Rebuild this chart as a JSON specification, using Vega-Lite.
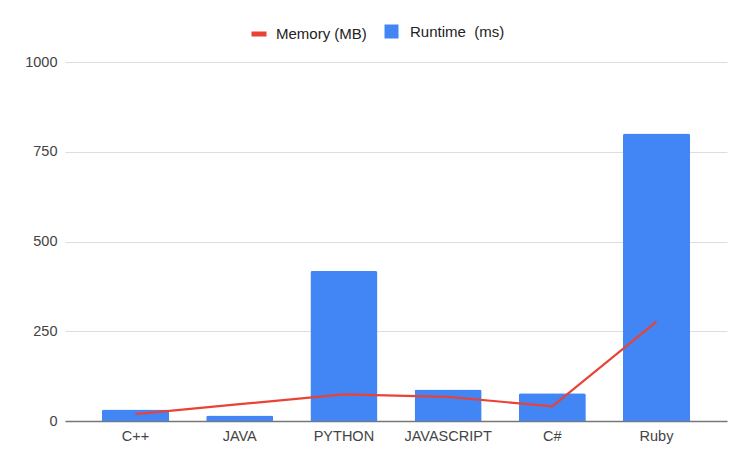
{
  "$schema": "https://vega.github.io/schema/vega-lite/v6.json",
  "autosize": {"type": "none"},
  "width": 662,
  "height": 359,
  "padding": {"left": 65, "top": 62, "right": 16, "bottom": 43},
  "background": "white",
  "data": {
    "values": [
      {"lang": "C++", "runtime": 32, "memory": 19},
      {"lang": "JAVA", "runtime": 15, "memory": 47},
      {"lang": "PYTHON", "runtime": 418, "memory": 74},
      {"lang": "JAVASCRIPT", "runtime": 88, "memory": 67},
      {"lang": "C#", "runtime": 77, "memory": 41},
      {"lang": "Ruby", "runtime": 801, "memory": 277}
    ]
  },
  "config": {
    "view": {"stroke": null},
    "font": "Liberation Sans",
    "axis": {"labelFont": "Liberation Sans", "labelFontSize": 14.5, "labelColor": "#444444", "title": null},
    "legend": {"labelFont": "Liberation Sans", "labelFontSize": 15, "labelColor": "#222222", "padding": 0, "title": null}
  },
  "encoding": {
    "x": {
      "field": "lang", "type": "nominal", "sort": null,
      "scale": {"paddingInner": 0.357, "paddingOuter": 0.355},
      "axis": {"labelAngle": 0, "ticks": false, "domainColor": "#777777", "domainWidth": 1.5, "labelPadding": 8, "grid": false}
    }
  },
  "layer": [
    {
      "mark": {"type": "bar", "cornerRadiusTopLeft": 2, "cornerRadiusTopRight": 2},
      "encoding": {
        "y": {
          "field": "runtime", "type": "quantitative",
          "scale": {"domain": [0, 1000], "nice": false},
          "axis": {"values": [0, 250, 500, 750, 1000], "format": "d", "domain": false, "ticks": false, "labelPadding": 8, "gridColor": "#dddddd", "gridWidth": 1}
        },
        "color": {
          "datum": "Runtime\u00a0 (ms)",
          "scale": {"domain": ["Runtime\u00a0 (ms)"], "range": ["#4285F4"]},
          "legend": {"orient": "none", "legendX": 319, "legendY": -38, "symbolType": "square", "symbolSize": 196, "symbolStrokeWidth": 0, "labelOffset": 11}
        }
      }
    },
    {
      "mark": {"type": "line", "strokeWidth": 2.2},
      "encoding": {
        "y": {"field": "memory", "type": "quantitative"},
        "stroke": {
          "datum": "Memory (MB)",
          "scale": {"domain": ["Memory (MB)"], "range": ["#EA4335"]},
          "legend": {"orient": "none", "legendX": 184, "legendY": -38, "symbolType": "stroke", "symbolSize": 225, "symbolStrokeWidth": 5, "labelOffset": 7}
        }
      }
    }
  ]
}
